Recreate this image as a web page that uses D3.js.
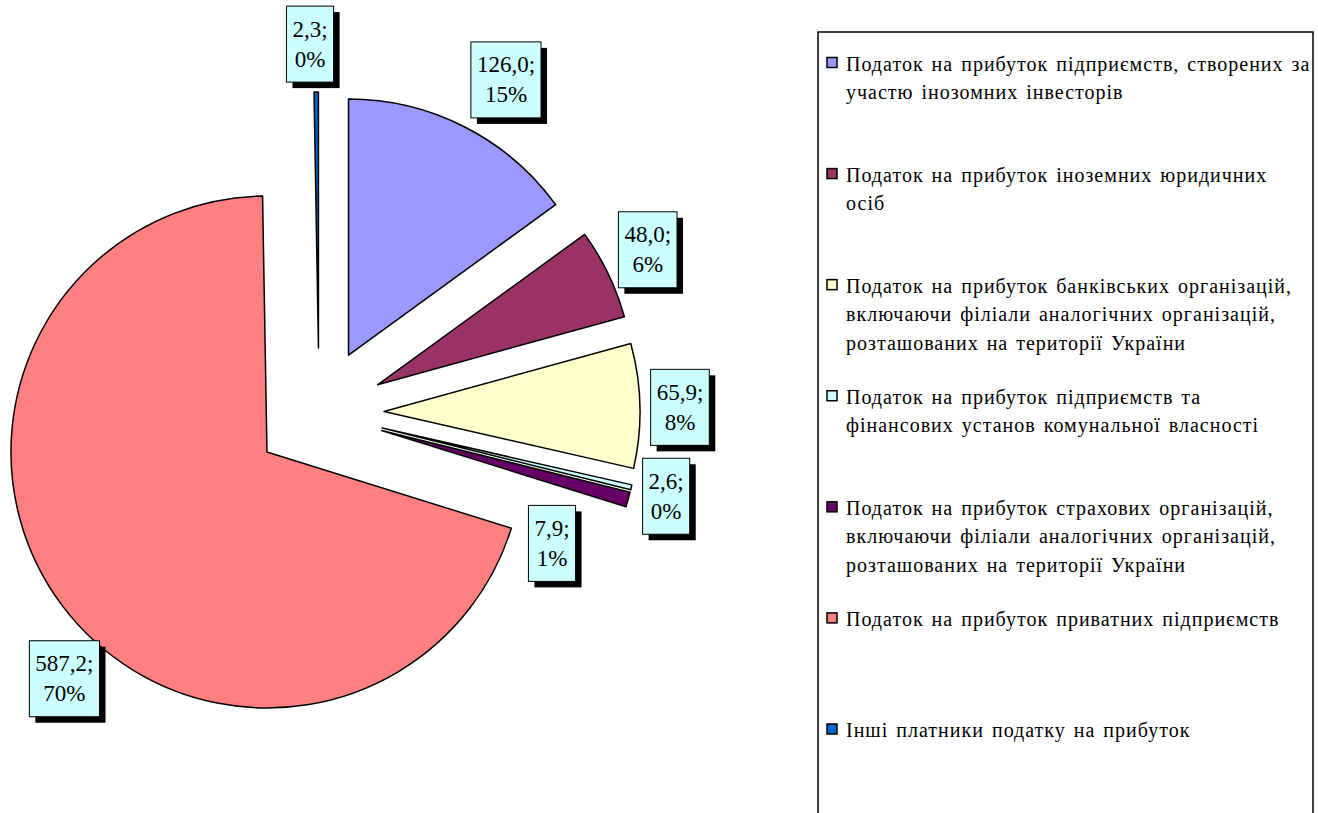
<!DOCTYPE html>
<html>
<head>
<meta charset="utf-8">
<script src="https://cdn.jsdelivr.net/npm/d3@7"></script>
<style>
  body { margin: 0; background: #fff; }
</style>
</head>
<body>
<svg id="chart" width="1318" height="813" font-family="'Liberation Serif', 'DejaVu Serif', 'Times New Roman', serif"></svg>
<script>
// categories (legend order = slice order, clockwise from 12 o'clock)
const categories = [
    ["Податок на прибуток підприємств, створених за", "участю інозомних інвесторів"],
    ["Податок на прибуток іноземних юридичних", "осіб"],
    ["Податок на прибуток банківських організацій,", "включаючи філіали аналогічних організацій,", "розташованих на території України"],
    ["Податок на прибуток підприємств та", "фінансових установ комунальної власності"],
    ["Податок на прибуток страхових організацій,", "включаючи філіали аналогічних організацій,", "розташованих на території України"],
    ["Податок на прибуток приватних підприємств"],
    ["Інші платники податку на прибуток"]
];
const values = [126.0, 48.0, 65.9, 2.6, 7.9, 587.2, 2.3];
const colors = ["#9999FF", "#993366", "#FFFFCC", "#CCFFFF", "#660066", "#FF8080", "#0066CC"];

const width = 1318, height = 813;
const cx = 319, cy = 413;
const radius = 256;
const explode = 65;

// label placement as Excel left it: [angle offset from slice middle (deg), distance from centre]
const labelPlace = [[2.3, 382], [-0.7, 367], [0.4, 361], [0.1, 357], [13.6, 267], [-9.4, 368], [-0.9, 369]];

const total = d3.sum(values);
const fmtVal = v => v.toFixed(1).replace(".", ",") + ";";
const fmtPct = v => Math.round(v / total * 100) + "%";

const svg = d3.select("#chart");

const pie = d3.pie().sort(null).value(d => d);
const arcs = pie(values);
const arc = d3.arc().innerRadius(0).outerRadius(radius);

const g = svg.append("g").attr("transform", `translate(${cx},${cy})`);

function mid(d) { return (d.startAngle + d.endAngle) / 2; }

g.selectAll("path.slice")
    .data(arcs)
    .enter()
    .append("path")
        .attr("class", "slice")
        .attr("transform", d => {
            let a = mid(d);
            return `translate(${Math.sin(a) * explode},${-Math.cos(a) * explode})`;
        })
        .attr("d", arc)
        .style("fill", (d, i) => colors[i])
        .style("stroke", "#000")
        .style("stroke-width", 1.5)
        .style("stroke-linejoin", "round");

// data labels
const labels = g.selectAll("g.label")
    .data(arcs)
    .enter()
    .append("g")
        .attr("class", "label")
        .attr("transform", (d, i) => {
            let a = mid(d) + labelPlace[i][0] * Math.PI / 180;
            let r = labelPlace[i][1];
            return `translate(${Math.sin(a) * r},${-Math.cos(a) * r})`;
        });

labels.each(function(d) {
    let lab = d3.select(this);
    let t1 = lab.append("text").text(fmtVal(d.value))
        .attr("y", -15).attr("text-anchor", "middle").attr("dominant-baseline", "central")
        .style("font-size", "23px");
    let t2 = lab.append("text").text(fmtPct(d.value))
        .attr("y", 15).attr("text-anchor", "middle").attr("dominant-baseline", "central")
        .style("font-size", "23px");
    let w = Math.max(t1.node().getComputedTextLength(), t2.node().getComputedTextLength()) + 12;
    let h = 76;
    lab.insert("rect", "text")
        .attr("x", -w / 2 + 6).attr("y", -h / 2 + 6)
        .attr("width", w).attr("height", h)
        .style("fill", "#000");
    lab.insert("rect", "text")
        .attr("x", -w / 2).attr("y", -h / 2)
        .attr("width", w).attr("height", h)
        .style("fill", "#CCFFFF")
        .style("stroke", "#000")
        .style("stroke-width", 1);
});

// legend
const legend = svg.append("g").attr("transform", "translate(818,32)");

legend.append("rect")
    .attr("x", 0).attr("y", 0)
    .attr("width", 495).attr("height", 820)
    .style("fill", "#fff")
    .style("stroke", "#000")
    .style("stroke-width", 1.5);

const rowY = d3.scaleLinear().domain([0, 6]).range([38.5, 705]);

const items = legend.selectAll("g.item")
    .data(categories)
    .enter()
    .append("g")
        .attr("class", "item")
        .attr("transform", (d, i) => `translate(0,${rowY(i)})`);

items.append("rect")
    .attr("x", 9).attr("y", -13)
    .attr("width", 10).attr("height", 10)
    .style("fill", (d, i) => colors[i])
    .style("stroke", "#000")
    .style("stroke-width", 1.5);

items.each(function(lines) {
    d3.select(this).selectAll("text")
        .data(lines)
        .enter()
        .append("text")
            .attr("x", 28)
            .attr("y", (d, j) => j * 28.5)
            .style("font-size", "20px")
            .style("letter-spacing", "1px")
            .style("word-spacing", "2px")
            .text(d => d);
});
</script>
</body>
</html>
